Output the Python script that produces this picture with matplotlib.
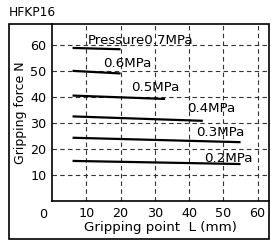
import matplotlib.pyplot as plt
import matplotlib.patches as mpatches

W, H = 271, 240

pressures = ["Pressure0.7MPa", "0.6MPa", "0.5MPa", "0.4MPa", "0.3MPa", "0.2MPa"]
x_start = [6, 6, 6, 6, 6, 6]
x_end = [20, 20, 33, 44, 55, 55]
f_start = [58.8, 50.0, 40.5, 32.5, 24.3, 15.4]
f_end = [58.3, 49.0, 39.2, 30.8, 22.6, 14.2]
label_x = [10.3, 15, 23, 39.5, 42, 44.5]
label_y = [61.5, 53, 43.5, 35.5, 26.5, 16.5]
xticks = [10, 20, 30, 40, 50, 60]
yticks = [10, 20, 30, 40, 50, 60]

fig = plt.figure(figsize=(W / 100, H / 100), dpi=100)
ax = fig.add_axes([52 / W, 1 - 201 / H, 217 / W, 177 / H])

for xs, xe, fs, fe in zip(x_start, x_end, f_start, f_end):
    ax.plot([xs, xe], [fs, fe], color="black", lw=1.6, solid_capstyle="butt")
for t, lx, ly in zip(pressures, label_x, label_y):
    ax.text(lx, ly, t, fontsize=9.6, va="center", ha="left")

ax.set_xlim(0, 63.3)
ax.set_ylim(0, 68)
ax.set_xticks(xticks)
ax.set_yticks(yticks)
ax.tick_params(labelsize=9.2, length=0, pad=4)
ax.grid(True, ls=(0, (4, 3)), color="#333333", lw=0.8)
for s in ["top", "right"]:
    ax.spines[s].set_visible(False)
ax.spines["left"].set_linewidth(1.2)
ax.spines["bottom"].set_linewidth(1.2)
ax.set_ylabel("Gripping force N", fontsize=9, labelpad=2)
ax.set_xlabel("Gripping point  L (mm)", fontsize=9.6, labelpad=1)
ax.text(-1.5, -2.5, "0", fontsize=9.2, ha="right", va="top")

fig.patches.append(mpatches.Rectangle((9 / W, 1 / H), 260 / W, 215 / H, transform=fig.transFigure,
                                      fill=False, edgecolor="black", lw=1.2))
fig.text(9 / W, 1 - 12 / H, "HFKP16", fontsize=8.8, va="center", ha="left")

fig.savefig("out.png", dpi=100)
